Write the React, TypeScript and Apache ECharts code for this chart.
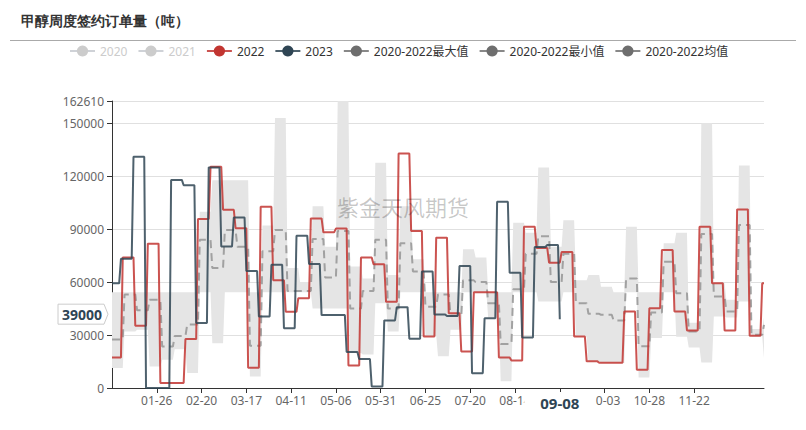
import React, { useEffect, useRef } from 'react';
import * as echarts from 'echarts';

// ---------- calendar categories (MM-DD, non-leap year) ----------
const monthLengths = [31, 28, 31, 30, 31, 30, 31, 31, 30, 31, 30, 31];
const pad2 = (n: number) => String(n).padStart(2, '0');
const dayCategories: string[] = [];
monthLengths.forEach((len, m) => {
  for (let d = 1; d <= len; d++) dayCategories.push(`${pad2(m + 1)}-${pad2(d)}`);
});

// ---------- x tick labels ----------
const tickLabels = ['01-26', '02-20', '03-17', '04-11', '05-06', '05-31', '06-25', '07-20', '08-14', '09-08', '10-03', '10-28', '11-22'];

// ---------- 2022 weekly values (each holds until the next date) ----------
const dates2022 = ['01-01', '01-07', '01-14', '01-21', '01-28', '02-04', '02-11', '02-18', '02-25', '03-04', '03-11', '03-18', '03-25', '04-01', '04-08', '04-15', '04-22', '04-29', '05-06', '05-13', '05-20', '05-27', '06-03', '06-10', '06-17', '06-24', '07-01', '07-08', '07-15', '07-22', '07-29', '08-05', '08-12', '08-19', '08-26', '09-02', '09-09', '09-16', '09-23', '09-30', '10-07', '10-14', '10-21', '10-28', '11-04', '11-11', '11-18', '11-25', '12-02', '12-09', '12-16', '12-23', '12-30'];
const values2022 = [17300, 74000, 35300, 81800, 2800, 2800, 27700, 95800, 125300, 101000, 90500, 11500, 102700, 61000, 43200, 50900, 96100, 88200, 90300, 12800, 74000, 70100, 48800, 132900, 89000, 29200, 85200, 42400, 20700, 54200, 54200, 17300, 15600, 91400, 79300, 71000, 77000, 29200, 15100, 14300, 14300, 43300, 10400, 45200, 78200, 43300, 32600, 91400, 59400, 32600, 101200, 29600, 59400];
const last2022 = '12-31';

// ---------- 2023 weekly values ----------
const dates2023 = ['01-01', '01-06', '01-13', '01-20', '01-27', '02-03', '02-10', '02-17', '02-24', '03-03', '03-10', '03-17', '03-24', '03-31', '04-07', '04-14', '04-21', '04-28', '05-05', '05-12', '05-19', '05-26', '06-02', '06-09', '06-16', '06-23', '06-30', '07-07', '07-14', '07-21', '07-28', '08-04', '08-11', '08-18', '08-25', '09-01', '09-08'];
const values2023 = [59300, 73200, 131000, 0, 0, 117900, 114900, 36800, 125000, 80200, 96600, 66300, 40500, 69800, 33900, 86300, 70300, 41300, 41300, 20400, 16400, 900, 38300, 45800, 27900, 66000, 41700, 40800, 69100, 8400, 39500, 105500, 65300, 28600, 79900, 81000, 39000];
const last2023 = '09-08';

// ---------- 2020-2022 statistics, weekly ----------
const statDates = ['01-01', '01-08', '01-15', '01-22', '01-29', '02-05', '02-12', '02-19', '02-26', '03-05', '03-12', '03-19', '03-26', '04-02', '04-09', '04-16', '04-23', '04-30', '05-07', '05-14', '05-21', '05-28', '06-04', '06-11', '06-18', '06-25', '07-02', '07-09', '07-16', '07-23', '07-30', '08-06', '08-13', '08-20', '08-27', '09-03', '09-10', '09-17', '09-24', '10-01', '10-08', '10-15', '10-22', '10-29', '11-05', '11-12', '11-19', '11-26', '12-03', '12-10', '12-17', '12-24', '12-31'];
const statMax = [54300, 54300, 54300, 54300, 54300, 54300, 54300, 99800, 117700, 117700, 117700, 54300, 92000, 153000, 68000, 60000, 103000, 80000, 162610, 68800, 62000, 127600, 64000, 103000, 73000, 54300, 54300, 54300, 78600, 74000, 54300, 54300, 93600, 88000, 125000, 80000, 95000, 61000, 64000, 57400, 54300, 91400, 54300, 54300, 82000, 88000, 37000, 150000, 59400, 50000, 126000, 33400, 40000];
const statMin = [11300, 32000, 33000, 12200, 16000, 22000, 8500, 54300, 25400, 54300, 54300, 6500, 54300, 54300, 54300, 54300, 45000, 45000, 45000, 19800, 19000, 48000, 32000, 54300, 54300, 30000, 18000, 33000, 54300, 54300, 40000, 3800, 54300, 54300, 49000, 49000, 54300, 29000, 15000, 14000, 14000, 54300, 6000, 28300, 54300, 29000, 23000, 14500, 40500, 40000, 49000, 29200, 17000];
const statMean = [27500, 53000, 44000, 50000, 23500, 29500, 36000, 84000, 68000, 89500, 80000, 24000, 77500, 89500, 55000, 55000, 84400, 62600, 89000, 45000, 55000, 84000, 45000, 82000, 66000, 46000, 53000, 41000, 61000, 60000, 48000, 25000, 56000, 76000, 86000, 60000, 76000, 48000, 42000, 41500, 38300, 62000, 23600, 42800, 71600, 53700, 32000, 87300, 51800, 43300, 92300, 30200, 35800];
const lastStat = '12-31';

// ---------- pointer (hovered) values ----------
const pointerDate = '09-08';
const pointerValue = 39000;

// ---------- axis ----------
const yMax = 162610;
const yInterval = 30000;

// Each weekly value applies to every day from its date until the next date.
function holdDaily(dates: string[], values: number[], lastDate: string): (number | null)[] {
  const out: (number | null)[] = new Array(dayCategories.length).fill(null);
  const starts = dates.map((d) => dayCategories.indexOf(d));
  const end = dayCategories.indexOf(lastDate);
  let k = -1;
  for (let i = 0; i <= end; i++) {
    while (k + 1 < starts.length && starts[k + 1] <= i) k++;
    out[i] = k >= 0 ? values[k] : null;
  }
  return out;
}

const daily2022 = holdDaily(dates2022, values2022, last2022);
const daily2023 = holdDaily(dates2023, values2023, last2023);
const dailyMax = holdDaily(statDates, statMax, lastStat);
const dailyMin = holdDaily(statDates, statMin, lastStat);
const dailyMean = holdDaily(statDates, statMean, lastStat);
const dailyBandWidth = dailyMax.map((v, i) => (v == null || dailyMin[i] == null ? null : (v as number) - (dailyMin[i] as number)));

const FONT = '"Noto Sans", "Noto Sans CJK SC", sans-serif';
const RED = '#c23531';
const NAVY = '#2f4554';
const GREY_ICON = '#6e6e6e';

const isTick = (_i: number, v: string) => tickLabels.includes(v);

const baseGraphic: any[] = [
  { id: 'rule', type: 'line', shape: { x1: 10, y1: 40.5, x2: 796, y2: 40.5 }, style: { stroke: '#aaa', lineWidth: 1 }, silent: true },
  {
    id: 'watermark',
    type: 'text',
    left: 'center',
    top: 195,
    z: 100,
    silent: true,
    style: { text: '紫金天风期货', fontSize: 22, fill: 'rgba(0,0,0,0.22)', fontFamily: '"Noto Sans CJK SC", sans-serif' },
  },
];

const option: any = {
  animation: false,
  backgroundColor: '#fff',
  textStyle: { fontFamily: FONT },
  title: {
    text: '甲醇周度签约订单量（吨）',
    left: 16,
    top: 9,
    textStyle: { fontSize: 14, fontWeight: 'bold', color: '#333', fontFamily: 'serif' },
  },
  graphic: baseGraphic,
  legend: {
    left: 64,
    top: 40,
    itemWidth: 25,
    itemHeight: 14,
    itemGap: 10,
    textStyle: { fontSize: 12, color: '#333' },
    inactiveColor: '#ccc',
    selected: { '2020': false, '2021': false },
    data: [
      { name: '2020' },
      { name: '2021' },
      { name: '2022' },
      { name: '2023' },
      { name: '2020-2022最大值', itemStyle: { color: GREY_ICON }, lineStyle: { color: '#888', opacity: 1, width: 2 } },
      { name: '2020-2022最小值', itemStyle: { color: GREY_ICON }, lineStyle: { color: '#888', opacity: 1, width: 2 } },
      { name: '2020-2022均值', itemStyle: { color: GREY_ICON }, lineStyle: { color: '#888', opacity: 1, width: 2, type: 'solid' } },
    ],
  },
  grid: { left: 112, right: 42, top: 101, bottom: 42, containLabel: false },
  xAxis: {
    type: 'category',
    data: dayCategories,
    boundaryGap: false,
    axisLine: { show: true, lineStyle: { color: '#333' } },
    axisTick: { show: true, interval: isTick, length: 5, lineStyle: { color: '#333' } },
    axisLabel: { interval: isTick, color: '#666', fontSize: 12, margin: 6 },
    splitLine: { show: false },
    axisPointer: {
      show: true,
      type: 'line',
      status: 'show',
      value: dayCategories.indexOf(pointerDate),
      triggerTooltip: false,
      snap: false,
      lineStyle: { width: 0, opacity: 0 },
      label: {
        show: true,
        backgroundColor: '#fff',
        color: NAVY,
        fontWeight: 'bold',
        fontSize: 15,
        padding: [3, 16, 3, 16],
        margin: 4,
        borderWidth: 0,
        shadowBlur: 0,
      },
    },
  },
  yAxis: {
    type: 'value',
    min: 0,
    max: yMax,
    interval: yInterval,
    axisLine: { show: true, lineStyle: { color: '#333' } },
    axisTick: { show: true, length: 5, lineStyle: { color: '#333' } },
    axisLabel: { color: '#666', fontSize: 12, margin: 8, formatter: (v: number) => String(v) },
    splitLine: { show: true, lineStyle: { color: '#e0e0e0' } },
  },
  series: [
    { name: '2020', type: 'line', data: [], symbol: 'circle', showSymbol: false, itemStyle: { color: '#ccc' } },
    { name: '2021', type: 'line', data: [], symbol: 'circle', showSymbol: false, itemStyle: { color: '#ccc' } },
    {
      name: '2020-2022最小值',
      type: 'line',
      stack: 'band',
      data: dailyMin,
      symbol: 'circle',
      showSymbol: false,
      silent: true,
      itemStyle: { color: GREY_ICON },
      lineStyle: { opacity: 0, width: 0 },
      z: 1,
    },
    {
      name: '2020-2022最大值',
      type: 'line',
      stack: 'band',
      data: dailyBandWidth,
      symbol: 'circle',
      showSymbol: false,
      silent: true,
      itemStyle: { color: GREY_ICON },
      lineStyle: { opacity: 0, width: 0 },
      areaStyle: { color: '#e5e5e5', opacity: 1 },
      z: 1,
    },
    {
      name: '2020-2022均值',
      type: 'line',
      data: dailyMean,
      symbol: 'circle',
      showSymbol: false,
      silent: true,
      itemStyle: { color: GREY_ICON },
      lineStyle: { color: '#999', width: 2, type: [8, 5], opacity: 0.9 },
      z: 2,
    },
    {
      name: '2022',
      type: 'line',
      data: daily2022,
      symbol: 'circle',
      showSymbol: false,
      itemStyle: { color: RED },
      lineStyle: { color: RED, width: 2, opacity: 0.85 },
      z: 3,
    },
    {
      name: '2023',
      type: 'line',
      data: daily2023,
      symbol: 'circle',
      showSymbol: false,
      connectNulls: false,
      itemStyle: { color: NAVY },
      lineStyle: { color: NAVY, width: 2, opacity: 0.85 },
      z: 4,
    },
  ],
};

export default function App() {
  const ref = useRef<HTMLDivElement>(null);
  useEffect(() => {
    if (!ref.current) return;
    const chart = echarts.init(ref.current, null, { renderer: 'svg' });
    chart.setOption(option);

    // y-axis pointer tag (hovered value), placed from the axis scale
    const yPix = chart.convertToPixel({ yAxisIndex: 0 }, pointerValue) as number;
    const axisX = chart.convertToPixel({ xAxisIndex: 0 }, 0) as number;
    const tagW = 46;
    const tagH = 20;
    const tip = 4;
    const right = axisX - 4;
    const cy = yPix - 5;
    chart.setOption({
      graphic: [
        ...baseGraphic,
        {
          id: 'ytag',
          type: 'group',
          x: right - tip - tagW,
          y: cy - tagH / 2,
          z: 200,
          silent: true,
          children: [
            {
              type: 'polygon',
              shape: { points: [[0, 0], [tagW, 0], [tagW + tip, tagH / 2], [tagW, tagH], [0, tagH]] },
              style: { fill: '#fff', stroke: '#ccc', lineWidth: 1 },
            },
            {
              type: 'text',
              x: tagW / 2 + 1,
              y: tagH / 2,
              style: {
                text: String(pointerValue),
                fontSize: 14,
                fontWeight: 'bold',
                fill: NAVY,
                align: 'center',
                verticalAlign: 'middle',
                fontFamily: FONT,
              },
            },
          ],
        },
      ],
    });
    return () => chart.dispose();
  }, []);
  return (
    <div
      ref={ref}
      style={{ position: 'fixed', left: 0, top: 0, width: 806, height: 430, background: '#fff' }}
    />
  );
}
